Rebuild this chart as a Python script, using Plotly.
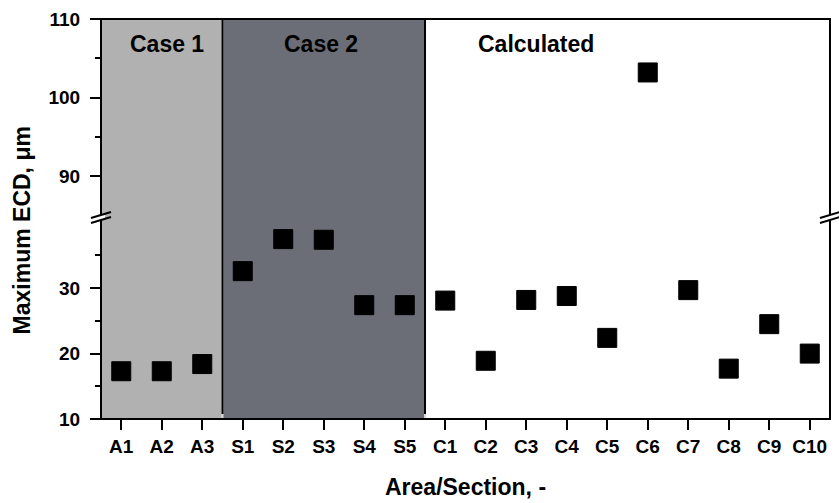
import plotly.graph_objects as go

# ---- data ----
labels = ["A1", "A2", "A3", "S1", "S2", "S3", "S4", "S5",
          "C1", "C2", "C3", "C4", "C5", "C6", "C7", "C8", "C9", "C10"]
values = [17.3, 17.3, 18.4, 32.6, 37.5, 37.4, 27.4, 27.4,
          28.1, 18.9, 28.2, 28.8, 22.4, 103.2, 29.7, 17.7, 24.5, 20.0]
lower_ticks = [10, 20, 30]
upper_ticks = [90, 100, 110]
group_names = ["Case 1", "Case 2", "Calculated"]
group_bounds = [-0.5, 2.5, 7.5, 17.5]

# ---- geometry ----
W, H = 839, 503
ML, MR, MT, MB = 101, 9, 16, 84
PH = H - MT - MB  # 403
BREAK_PX = 216     # pixel row of the axis break
brk = (H - MB - BREAK_PX) / PH
lower_range = [10, 40.8]
upper_range = [84.75, 110]

FONT = "Liberation Sans, Arial, sans-serif"

low_y = [v if v < 60 else None for v in values]
up_y = [v if v >= 60 else None for v in values]

fig = go.Figure()
fig.add_trace(go.Scatter(x=labels, y=low_y, mode="markers", xaxis="x", yaxis="y",
                         marker=dict(symbol="square", size=19, color="black",
                                     line=dict(color="black", width=1)),
                         showlegend=False, cliponaxis=False))
fig.add_trace(go.Scatter(x=labels, y=up_y, mode="markers", xaxis="x", yaxis="y2",
                         marker=dict(symbol="square", size=19, color="black",
                                     line=dict(color="black", width=1)),
                         showlegend=False, cliponaxis=False))

tickfont = dict(family=FONT, size=19, color="black", weight="bold")

fig.update_layout(
    width=W, height=H,
    margin=dict(l=ML, r=MR, t=MT, b=MB),
    paper_bgcolor="white", plot_bgcolor="white",
    xaxis=dict(type="category", range=[-0.5, 17.5], anchor="y",
               showgrid=False, zeroline=False, showline=False,
               ticks="outside", ticklen=10, tickwidth=2, tickcolor="black",
               tickfont=tickfont, ticklabelstandoff=0),
    yaxis=dict(domain=[0, brk], range=lower_range, anchor="x",
               showgrid=False, zeroline=False, showline=False,
               tickmode="array", tickvals=lower_ticks,
               ticks="outside", ticklen=10, tickwidth=2, tickcolor="black",
               minor=dict(tickmode="array", tickvals=[15, 25, 35], ticks="outside",
                          ticklen=5, tickwidth=2, tickcolor="black", showgrid=False),
               tickfont=tickfont, ticklabelstandoff=6),
    yaxis2=dict(domain=[brk, 1], range=upper_range, anchor="x",
                showgrid=False, zeroline=False, showline=False,
                tickmode="array", tickvals=upper_ticks,
                ticks="outside", ticklen=10, tickwidth=2, tickcolor="black",
                minor=dict(tickmode="array", tickvals=[95, 105], ticks="outside",
                           ticklen=5, tickwidth=2, tickcolor="black", showgrid=False),
                tickfont=tickfont, ticklabelstandoff=6),
)

shapes = []
# shaded regions
fills = ["#b1b1b1", "#6b6e76"]
for i, col in enumerate(fills):
    shapes.append(dict(type="rect", xref="x", yref="paper",
                       x0=group_bounds[i], x1=group_bounds[i + 1], y0=0, y1=1,
                       fillcolor=col, line=dict(color="#d6d6d6", width=2), layer="below"))
# separator lines
for xb in group_bounds[1:3]:
    shapes.append(dict(type="line", xref="x", yref="paper", x0=xb, x1=xb,
                       y0=5 / PH, y1=1, line=dict(color="black", width=2)))
# frame
shapes.append(dict(type="rect", xref="paper", yref="paper", x0=0, x1=1, y0=0, y1=1,
                   line=dict(color="black", width=2), fillcolor="rgba(0,0,0,0)"))
# break marks on left and right axes
for xa in (0, 1):
    shapes.append(dict(type="path", xref="paper", yref="paper",
                       xsizemode="pixel", ysizemode="pixel", xanchor=xa, yanchor=brk,
                       path="M-4,-3.5 L4,-1 L4,4 L-4,1.5 Z",
                       fillcolor="white", line=dict(width=0)))
    for dy in (-2.5, 2.5):
        shapes.append(dict(type="line", xref="paper", yref="paper",
                           xsizemode="pixel", ysizemode="pixel", xanchor=xa, yanchor=brk,
                           x0=-10, x1=10, y0=dy - 3, y1=dy + 3,
                           line=dict(color="black", width=2)))
fig.update_layout(shapes=shapes)

ann = []
label_x = [1.14, 4.94, 10.24]
for name, xc in zip(group_names, label_x):
    ann.append(dict(text=name, xref="x", yref="paper", x=xc, y=(H - MB - 41) / PH,
                    xanchor="center", yanchor="middle", showarrow=False,
                    font=dict(family=FONT, size=23, color="black", weight="bold")))
ann.append(dict(text="Area/Section, -", xref="paper", yref="paper", x=0.5,
                y=(H - MB - 488) / PH, xanchor="center", yanchor="middle", showarrow=False,
                font=dict(family=FONT, size=23, color="black", weight="bold")))
ann.append(dict(text="Maximum ECD, μm", xref="paper", yref="paper", x=0, xshift=-79,
                y=(H - MB - 229) / PH, xanchor="center", yanchor="middle", textangle=-90,
                showarrow=False,
                font=dict(family=FONT, size=23, color="black", weight="bold")))
fig.update_layout(annotations=ann)

fig.write_html("out.html")
